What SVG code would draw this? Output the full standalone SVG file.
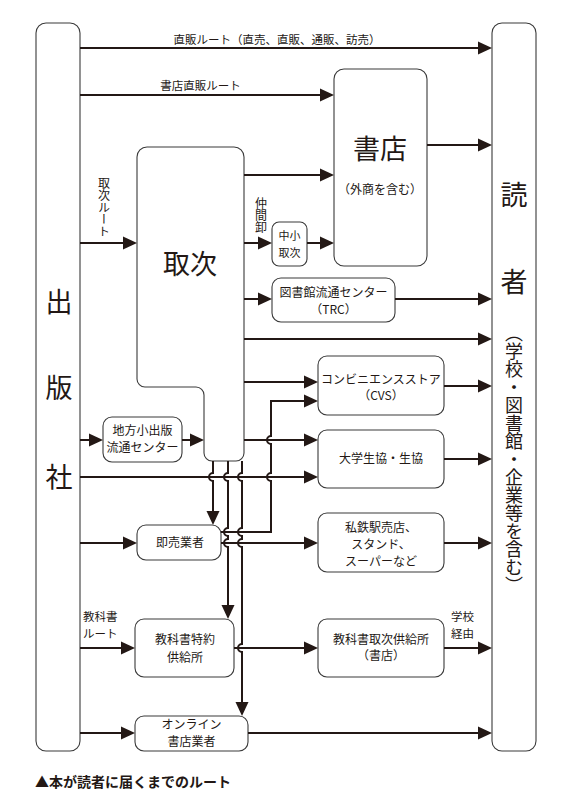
<svg xmlns="http://www.w3.org/2000/svg" width="570" height="803" viewBox="0 0 570 803">
<style>
.box{fill:#fff;stroke:#3a3a3a;stroke-width:1.1}
.t{font-family:"Noto Sans CJK JP","Noto Sans",sans-serif;fill:#231815;text-anchor:middle}
.c{fill:none;stroke:#231815;stroke-width:2}
.a{marker-end:url(#ah)}
.v{writing-mode:vertical-rl}
</style>
<defs>
<marker id="ah" markerUnits="userSpaceOnUse" markerWidth="14" markerHeight="13" refX="11" refY="6.5" orient="auto" overflow="visible">
<path d="M0,0 L14,6.5 L0,13 z" fill="#231815"/>
</marker>
</defs>
<rect width="570" height="803" fill="#fff"/>

<g id="publisher">
<rect class="box" x="36" y="23" width="44" height="728" rx="10"/>
<text class="t" x="59" y="312" font-size="27">出</text>
<text class="t" x="59" y="398" font-size="27">版</text>
<text class="t" x="59" y="487" font-size="27">社</text>
</g>
<g id="reader">
<rect class="box" x="492" y="23" width="44" height="728" rx="10"/>
<text class="t" x="514" y="205" font-size="27">読</text>
<text class="t" x="514" y="292" font-size="27">者</text>
<text class="t v" x="514" y="324" font-size="18" style="text-anchor:start">（学校・図書館・企業等を含む）</text>
</g>
<g id="shoten">
<rect class="box" x="334" y="69" width="93" height="197" rx="10"/>
<text class="t" x="380" y="159" font-size="27">書店</text>
<text class="t" x="380" y="194" font-size="12">（外商を含む）</text>
</g>
<g id="toritsugi">
<path class="box" d="M147,147 H234 A10,10 0 0 1 244,157 V453 A8,8 0 0 1 236,461 H212 A8,8 0 0 1 204,453 V395 A8,8 0 0 0 196,387 H145 A8,8 0 0 1 137,379 V157 A10,10 0 0 1 147,147 Z"/>
<text class="t" x="190" y="274" font-size="27">取次</text>
</g>
<g id="chusho">
<rect class="box" x="272" y="222" width="35" height="44" rx="7"/>
<text class="t" x="289.5" y="240" font-size="11">中小<tspan x="289.5" dy="17">取次</tspan></text>
</g>
<g id="trc">
<rect class="box" x="272" y="278" width="123" height="44" rx="9"/>
<text class="t" x="333.5" y="297" font-size="12">図書館流通センター<tspan x="333.5" dy="17">（TRC）</tspan></text>
</g>
<g id="cvs">
<rect class="box" x="318" y="356" width="126" height="59" rx="9"/>
<text class="t" x="381" y="384" font-size="12">コンビニエンスストア<tspan x="381" dy="16">（CVS）</tspan></text>
</g>
<g id="seikyo">
<rect class="box" x="318" y="430" width="126" height="58" rx="9"/>
<text class="t" x="381" y="463" font-size="12">大学生協・生協</text>
</g>
<g id="kiosk">
<rect class="box" x="318" y="513" width="126" height="59" rx="9"/>
<text class="t" x="381" y="532" font-size="12">私鉄駅売店、<tspan x="381" dy="17">スタンド、</tspan><tspan x="381" dy="17">スーパーなど</tspan></text>
</g>
<g id="chiho">
<rect class="box" x="103" y="417" width="79" height="45" rx="9"/>
<text class="t" x="142.5" y="435" font-size="12">地方小出版<tspan x="142.5" dy="17">流通センター</tspan></text>
</g>
<g id="sokubai">
<rect class="box" x="137" y="525" width="84" height="35" rx="9"/>
<text class="t" x="180" y="547" font-size="12">即売業者</text>
</g>
<g id="tokuyaku">
<rect class="box" x="135" y="619" width="99" height="58" rx="9"/>
<text class="t" x="185" y="644" font-size="12">教科書特約<tspan x="185" dy="18">供給所</tspan></text>
</g>
<g id="kyokyu">
<rect class="box" x="318" y="619" width="126" height="58" rx="9"/>
<text class="t" x="381" y="644" font-size="12">教科書取次供給所<tspan x="381" dy="16">（書店）</tspan></text>
</g>
<g id="online">
<rect class="box" x="135" y="716" width="113" height="35" rx="9"/>
<text class="t" x="191.5" y="729" font-size="12">オンライン<tspan x="191.5" dy="17">書店業者</tspan></text>
</g>

<g id="connectors">
<path class="c a" d="M80,48 H489"/>
<path class="c a" d="M80,95 H331"/>
<path class="c a" d="M427,145 H489"/>
<path class="c a" d="M244,175 H331"/>
<path class="c a" d="M80,243 H134"/>
<path class="c a" d="M244,243 H269"/>
<path class="c a" d="M307,243 H331"/>
<path class="c a" d="M244,299 H269"/>
<path class="c a" d="M395,299 H489"/>
<path class="c a" d="M244,339 H489"/>
<path class="c a" d="M244,382 H315"/>
<path class="c a" d="M444,386 H489"/>
<path class="c a" d="M221,532 H271 V481 A4,4 0 0 1 271,473 V444 A4,4 0 0 1 271,436 V401 H315"/>
<path class="c a" d="M244,440 H315"/>
<path class="c a" d="M80,440 H100"/>
<path class="c a" d="M182,440 H201"/>
<path class="c a" d="M80,477 H315"/>
<path class="c a" d="M444,459 H489"/>
<path class="c a" d="M213,461 V473 A4,4 0 0 0 213,481 V522"/>
<path class="c a" d="M228,461 V473 A4,4 0 0 0 228,481 V528 A4,4 0 0 0 228,536 V539 A4,4 0 0 0 228,547 V616"/>
<path class="c a" d="M242,461 V473 A4,4 0 0 0 242,481 V528 A4,4 0 0 0 242,536 V539 A4,4 0 0 0 242,547 V644 A4,4 0 0 0 242,652 V713"/>
<path class="c a" d="M80,543 H134"/>
<path class="c a" d="M221,543 H315"/>
<path class="c a" d="M444,543 H489"/>
<path class="c a" d="M80,648 H132"/>
<path class="c a" d="M234,648 H315"/>
<path class="c a" d="M444,648 H489"/>
<path class="c a" d="M80,733 H132"/>
<path class="c a" d="M248,733 H489"/>
</g>

<g id="labels">
<text class="t" x="277" y="44" font-size="11.5">直販ルート（直売、直販、通販、訪売）</text>
<text class="t" x="200.5" y="90" font-size="11.5">書店直販ルート</text>
<text class="t v" x="104" y="177" font-size="12" style="text-anchor:start">取次ルート</text>
<text class="t v" x="261" y="197" font-size="12" style="text-anchor:start">仲間卸</text>
<text class="t" x="83" y="621" font-size="11.5" style="text-anchor:start">教科書<tspan x="83" dy="17">ルート</tspan></text>
<text class="t" x="451" y="621" font-size="11.5" style="text-anchor:start">学校<tspan x="451" dy="17">経由</tspan></text>
<text class="t" x="35" y="787" font-size="14" font-weight="bold" style="text-anchor:start">▲本が読者に届くまでのルート</text>
</g>
</svg>
